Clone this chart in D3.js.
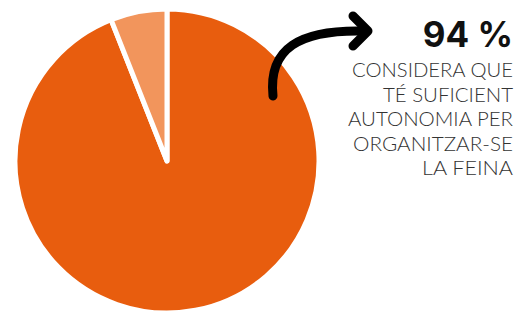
<!DOCTYPE html>
<html><head><meta charset="utf-8">
<script src="https://cdn.jsdelivr.net/npm/d3@7"></script>
<style>html,body{margin:0;padding:0;background:#fff;}</style>
</head><body>
<svg id="c" width="523" height="311"></svg>
<script>
const categories = ["Sí", "No"];
const values = [94, 6];
const colors = ["#E85D0E", "#F2955C"];
const headline = "94 %";
const textLines = ["CONSIDERA QUE", "TÉ SUFICIENT", "AUTONOMIA PER", "ORGANITZAR-SE", "LA FEINA"];
const lineWidths = [161, 130, 165, 160, 91];

const svg = d3.select("#c");
const cx = 167, cy = 161, r = 152;
const pie = d3.pie().sort(null).value(d => d)(values);
const arc = d3.arc().innerRadius(0).outerRadius(r);
const g = svg.append("g").attr("transform", `translate(${cx},${cy})`);
g.selectAll("path").data(pie).join("path")
  .attr("d", arc)
  .attr("fill", (d, i) => colors[i])
  .attr("stroke", "#fff").attr("stroke-width", 5).attr("stroke-linejoin", "round");

// arrow
svg.append("path")
  .attr("d", "M273,96 C268,48 300,30 362,31")
  .attr("fill", "none").attr("stroke", "#000").attr("stroke-width", 9).attr("stroke-linecap", "round");
svg.append("path")
  .attr("d", "M353,16 L368,31 L353,46")
  .attr("fill", "none").attr("stroke", "#000").attr("stroke-width", 9)
  .attr("stroke-linecap", "round").attr("stroke-linejoin", "round");

svg.append("text").attr("x", 513).attr("y", 47).attr("text-anchor", "end")
  .attr("font-family", "Inter, 'Open Sans', sans-serif").attr("font-weight", 700)
  .attr("font-size", 35).attr("fill", "#111").text(headline);

svg.selectAll("text.l").data(textLines).join("text").attr("class", "l")
  .attr("x", 513).attr("y", (d, i) => 77 + i * 24.5).attr("text-anchor", "end")
  .attr("font-family", "Lato, Inter, sans-serif").attr("font-weight", 300)
  .attr("font-size", 19.5).attr("fill", "#333")
  .attr("textLength", (d, i) => lineWidths[i]).attr("lengthAdjust", "spacingAndGlyphs")
  .text(d => d);
</script>
</body></html>
